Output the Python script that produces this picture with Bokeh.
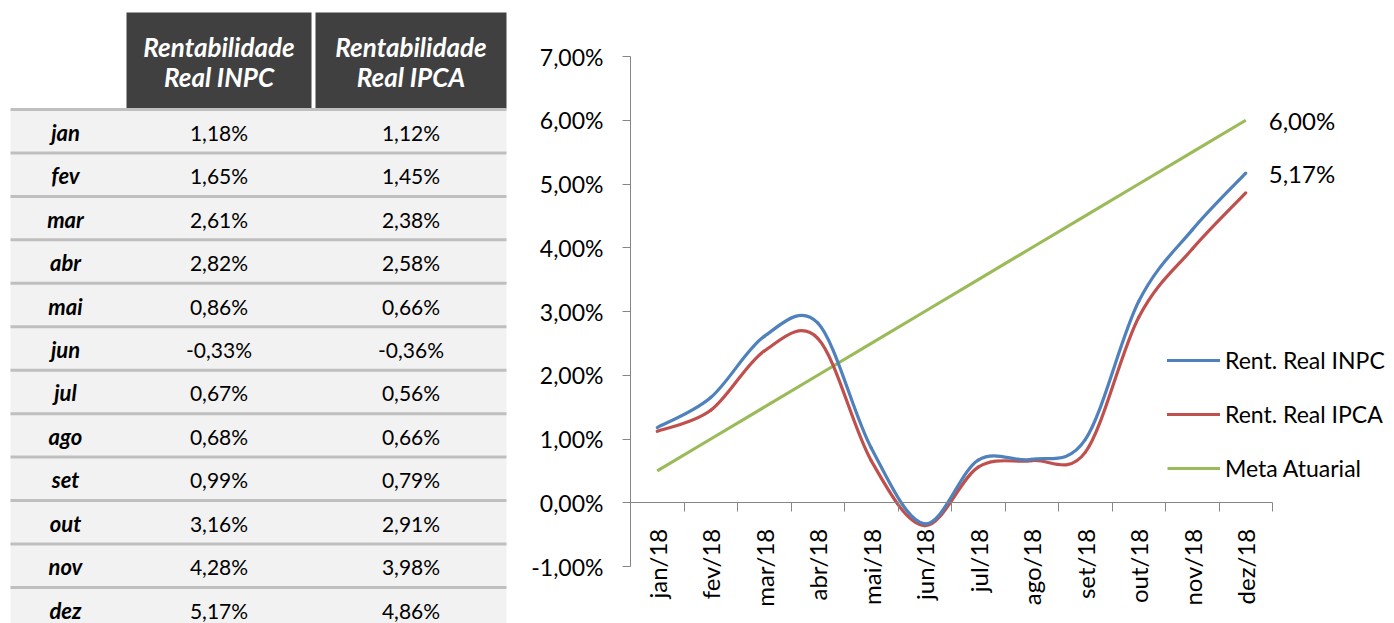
from math import pi
from bokeh.plotting import figure
from bokeh.models import (Range1d, LinearAxis, FixedTicker, ColumnDataSource,
                          LabelSet, Legend, LegendItem)
from bokeh.layouts import row
from bokeh.core.properties import value
from bokeh.embed import file_html
from bokeh.resources import INLINE

# ---------------- data ----------------
months = ["jan", "fev", "mar", "abr", "mai", "jun", "jul", "ago", "set", "out", "nov", "dez"]
month_labels = ["jan/18", "fev/18", "mar/18", "abr/18", "mai/18", "jun/18",
                "jul/18", "ago/18", "set/18", "out/18", "nov/18", "dez/18"]
inpc = [1.18, 1.65, 2.61, 2.82, 0.86, -0.33, 0.67, 0.68, 0.99, 3.16, 4.28, 5.17]
ipca = [1.12, 1.45, 2.38, 2.58, 0.66, -0.36, 0.56, 0.66, 0.79, 2.91, 3.98, 4.86]
meta = [0.50, 1.00, 1.50, 2.00, 2.50, 3.00, 3.50, 4.00, 4.50, 5.00, 5.50, 6.00]
y_ticks = [-1, 0, 1, 2, 3, 4, 5, 6, 7]
header_line1 = ["Rentabilidade", "Rentabilidade"]
header_line2 = ["Real INPC", "Real IPCA"]
series_names = ["Rent. Real INPC", "Rent. Real IPCA", "Meta Atuarial"]

FONT = "Lato"
BLUE, RED, GREEN = "#4f81bd", "#c0504d", "#9bbb59"
AXIS_GRAY = "#868686"


def pct(v):
    return f"{v:.2f}%".replace(".", ",")


# ---------------- table ----------------
TW, H = 520, 623
t = figure(width=TW, height=H, x_range=Range1d(0, TW), y_range=Range1d(H, 0),
           x_axis_location=None, y_axis_location=None, toolbar_location=None,
           output_backend="svg", min_border=0, outline_line_color=None)
t.grid.visible = False

tab_left, tab_right = 10, 506
col_lefts = [126, 315]
col_rights = [311, 506]
head_top, head_bottom = 12, 108
row_top0, row_h = 109, 43.45
month_x = 65

# header boxes
t.quad(left=col_lefts, right=col_rights, top=[head_top] * 2, bottom=[head_bottom] * 2,
       fill_color="#404040", line_color=None)
col_centers = [(a + b) / 2 for a, b in zip(col_lefts, col_rights)]
t.text(x=col_centers, y=[46] * 2, text=header_line1, text_align="center",
       text_baseline="middle", text_color="white", text_font=value(FONT),
       text_font_style="bold italic", text_font_size="26px")
t.text(x=col_centers, y=[76] * 2, text=header_line2, text_align="center",
       text_baseline="middle", text_color="white", text_font=value(FONT),
       text_font_style="bold italic", text_font_size="26px")

# rows
n = len(months)
tops = [row_top0 + i * row_h for i in range(n)]
t.quad(left=[tab_left] * n, right=[tab_right] * n, top=tops,
       bottom=[tp + row_h for tp in tops], fill_color="#f2f2f2", line_color=None)
t.quad(left=[tab_left] * n, right=[tab_right] * n, top=[tp - 1.5 for tp in tops],
       bottom=[tp + 1.5 for tp in tops], fill_color="#bfbfbf", line_color=None)
centers_y = [tp + row_h / 2 + 1 for tp in tops]
t.text(x=[month_x] * n, y=centers_y, text=months, text_align="center",
       text_baseline="middle", text_color="black", text_font=value(FONT),
       text_font_style="bold italic", text_font_size="22px")
t.text(x=[col_centers[0]] * n, y=centers_y, text=[pct(v) for v in inpc],
       text_align="center", text_baseline="middle", text_color="black",
       text_font=value(FONT), text_font_size="21px")
t.text(x=[col_centers[1]] * n, y=centers_y, text=[pct(v) for v in ipca],
       text_align="center", text_baseline="middle", text_color="black",
       text_font=value(FONT), text_font_size="21px")

# ---------------- chart ----------------
CW = 1394 - TW
left_border = 110
cat_px = 53.5
px_per_unit = 63.75
x_end = (CW - left_border) / cat_px
y_top = 7 + 56 / px_per_unit
y_bot = y_top - H / px_per_unit

p = figure(width=CW, height=H, x_range=Range1d(0, x_end), y_range=Range1d(y_bot, y_top),
           x_axis_location=None, toolbar_location=None, output_backend="svg",
           min_border_left=left_border, min_border_right=0, min_border_top=0,
           min_border_bottom=0, outline_line_color=None)
p.grid.visible = False

xc = [i + 0.5 for i in range(n)]


def bezier_data(xs, ys):
    d = dict(x0=[], y0=[], x1=[], y1=[], cx0=[], cy0=[], cx1=[], cy1=[])
    m = len(xs)
    for i in range(m - 1):
        xp, yp = (xs[i - 1], ys[i - 1]) if i > 0 else (xs[i], ys[i])
        xq, yq = (xs[i + 2], ys[i + 2]) if i + 2 < m else (xs[i + 1], ys[i + 1])
        d["x0"].append(xs[i]); d["y0"].append(ys[i])
        d["x1"].append(xs[i + 1]); d["y1"].append(ys[i + 1])
        d["cx0"].append(xs[i] + (xs[i + 1] - xp) / 6)
        d["cy0"].append(ys[i] + (ys[i + 1] - yp) / 6)
        d["cx1"].append(xs[i + 1] - (xq - xs[i]) / 6)
        d["cy1"].append(ys[i + 1] - (yq - ys[i]) / 6)
    return ColumnDataSource(d)


r_meta = p.line(xc, meta, line_color=GREEN, line_width=3.2)
r_ipca = p.bezier(x0="x0", y0="y0", x1="x1", y1="y1", cx0="cx0", cy0="cy0",
                  cx1="cx1", cy1="cy1", source=bezier_data(xc, ipca),
                  line_color=RED, line_width=3.2, line_cap="round")
r_inpc = p.bezier(x0="x0", y0="y0", x1="x1", y1="y1", cx0="cx0", cy0="cy0",
                  cx1="cx1", cy1="cy1", source=bezier_data(xc, inpc),
                  line_color=BLUE, line_width=3.2, line_cap="round")

# y axis
ya = p.yaxis[0]
ya.ticker = FixedTicker(ticks=y_ticks)
ya.major_label_overrides = {v: pct(v) for v in y_ticks}
ya.bounds = (y_ticks[0], y_ticks[-1])
ya.major_tick_out = 8
ya.major_tick_in = 0
ya.minor_tick_line_color = None
ya.axis_line_color = AXIS_GRAY
ya.major_tick_line_color = AXIS_GRAY
ya.major_label_standoff = 19
ya.major_label_text_font = FONT
ya.major_label_text_font_size = "23px"
ya.major_label_text_color = "black"

# x axis: tick marks between categories
xa = LinearAxis(fixed_location=0, ticker=FixedTicker(ticks=list(range(n + 1))),
                bounds=(0, n), major_tick_out=9, major_tick_in=0,
                axis_line_color=AXIS_GRAY, major_tick_line_color=AXIS_GRAY,
                minor_tick_line_color=None,
                major_label_overrides={i: "" for i in range(n + 1)},
                major_label_text_font_size="1px")
p.add_layout(xa, "below")
# x axis: category labels
xl = LinearAxis(fixed_location=0, ticker=FixedTicker(ticks=xc),
                major_tick_out=0, major_tick_in=0, axis_line_color=None,
                major_tick_line_color=None, minor_tick_line_color=None,
                major_label_overrides={c: lab for c, lab in zip(xc, month_labels)},
                major_label_orientation=pi / 2, major_label_standoff=26,
                major_label_text_font=FONT, major_label_text_font_size="24px",
                major_label_text_color="black")
p.add_layout(xl, "below")

# end labels
lab_src = ColumnDataSource(dict(x=[xc[-1], xc[-1]], y=[meta[-1], inpc[-1]],
                                text=[pct(meta[-1]), pct(inpc[-1])]))
p.add_layout(LabelSet(x="x", y="y", text="text", source=lab_src, x_offset=23,
                      text_baseline="middle", text_align="left",
                      text_font=value(FONT), text_font_size="24px", text_color="black"))

legend = Legend(items=[LegendItem(label=series_names[0], renderers=[r_inpc]),
                       LegendItem(label=series_names[1], renderers=[r_ipca]),
                       LegendItem(label=series_names[2], renderers=[r_meta])],
                location=(537, 141), glyph_width=53, glyph_height=24,
                label_height=24, spacing=26, padding=0, margin=0,
                label_standoff=5, border_line_color=None, background_fill_alpha=0,
                label_text_font=FONT, label_text_font_size="23px",
                label_text_color="black")
p.add_layout(legend)

layout = row(t, p)
open("out.html", "w").write(file_html(layout, INLINE))
